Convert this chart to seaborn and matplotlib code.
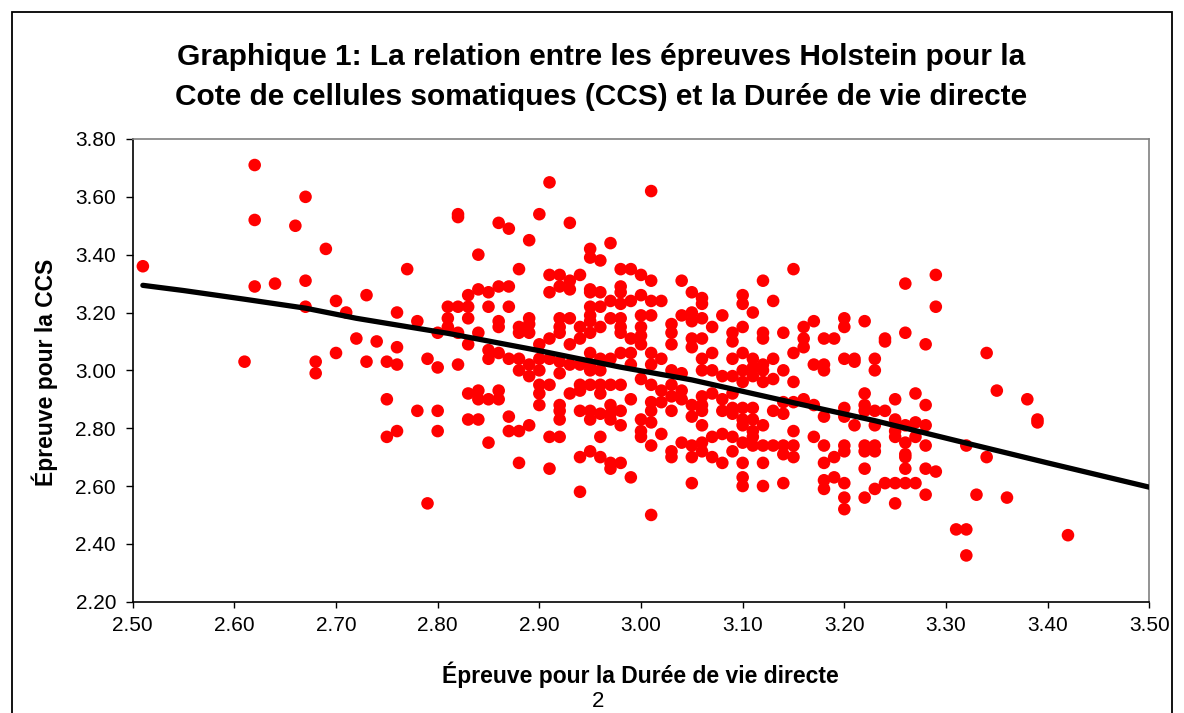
import numpy as np
import pandas as pd
import matplotlib.pyplot as plt
import seaborn as sns
from matplotlib.patches import Rectangle
from matplotlib.ticker import FormatStrFormatter

# Épreuve pour la Durée de vie directe (x) / Épreuve pour la CCS (y)
duree = [
    2.51, 2.62, 2.62, 2.62, 2.61, 2.64, 2.66, 2.67, 2.67, 2.67, 2.69, 2.68, 2.68, 2.70, 2.71, 2.70,
    2.72, 2.73, 2.73, 2.74, 2.75, 2.76, 2.76, 2.76, 2.75, 2.75, 2.76, 2.77, 2.78, 2.78, 2.79, 2.79,
    2.80, 2.80, 2.80, 2.80, 2.81, 2.81, 2.81,
    2.91, 2.82, 2.82, 2.86, 2.87, 2.90, 2.93, 2.89, 2.97, 2.84, 2.95, 2.95, 2.96, 2.88, 2.98, 2.91,
    2.92, 2.94, 2.93, 2.91, 2.92, 2.93, 2.84, 2.85, 2.86, 2.87, 2.83, 2.95, 2.95, 2.96, 2.98, 2.98,
    2.97, 2.98, 2.82, 2.83, 2.85, 2.87, 2.95, 2.96, 2.83, 2.86, 2.86, 2.89, 2.89, 2.92, 2.93, 2.95,
    2.95, 2.97, 2.98, 2.82, 2.84, 2.88, 2.88, 2.89, 2.92, 2.92, 2.94, 2.95, 2.96, 2.98, 2.98, 2.91,
    2.94, 2.83, 2.93, 2.90, 2.85, 2.85, 2.86, 2.95, 2.96, 2.97, 2.82, 2.87, 2.88, 2.88, 2.89, 2.90,
    2.91, 2.92, 2.93, 2.94, 2.95, 2.95, 2.96, 2.98, 2.89, 2.90, 2.92,
    2.90, 2.90, 2.91, 2.94, 2.94, 2.95, 2.96, 2.96, 2.97, 2.98, 2.93, 2.83, 2.84, 2.84, 2.85, 2.86,
    2.86, 2.90, 2.92, 2.92, 2.92, 2.94, 2.95, 2.95, 2.96, 2.97, 2.97, 2.97, 2.98, 2.98, 2.83, 2.84,
    2.87, 2.87, 2.88, 2.89, 2.91, 2.92, 2.96, 2.85, 2.94, 2.95, 2.96, 2.97, 2.97, 2.98, 2.88, 2.91,
    2.94,
    3.01, 2.99, 3.00, 3.01, 3.04, 3.05, 3.06, 3.06, 2.99, 3.00, 3.01, 3.02, 3.00, 3.01, 3.04, 3.05,
    3.05, 3.06, 3.08, 3.10, 3.10, 3.11, 3.12, 3.13, 3.15, 3.03, 3.03, 3.03, 3.00, 3.00, 3.00, 2.99,
    3.07, 3.05, 3.05, 3.06, 3.09, 3.09, 3.10, 3.12, 3.12, 3.14, 2.99, 3.01, 3.02, 3.07, 3.09, 3.10,
    3.11, 3.13, 3.15, 3.06, 3.06, 3.11, 3.12, 3.01, 2.99, 3.03, 3.04, 3.07, 3.10, 3.12, 3.14, 3.08,
    3.09,
    3.00, 3.01, 3.02, 3.02, 3.03, 3.03, 3.03, 3.04, 3.04, 3.05, 3.05, 3.06, 3.06, 3.06, 3.07, 3.08,
    3.08, 3.09, 3.09, 3.09, 3.10, 3.10, 3.10, 3.10, 3.11, 3.11, 3.11, 3.11, 3.12, 3.12, 3.13, 3.13,
    3.14, 3.14, 3.15, 3.15, 2.99, 3.00, 3.00, 3.00, 3.01, 3.01, 3.01, 3.01, 3.02, 3.03, 3.03, 3.04,
    3.05, 3.05, 3.06, 3.06, 3.06, 3.07, 3.07, 3.08, 3.08, 3.09, 3.09, 3.10, 3.10, 3.10, 3.10, 3.11,
    3.11, 3.12, 3.12, 3.12, 3.13, 3.14, 3.14, 3.14, 3.15, 3.15, 2.99, 3.05, 3.01,
    3.26, 3.29, 3.29, 3.17, 3.16, 3.16, 3.16, 3.20, 3.20, 3.22, 3.18, 3.19, 3.24, 3.24, 3.26, 3.28,
    3.17, 3.18, 3.18, 3.20, 3.21, 3.21, 3.23, 3.23,
    3.15, 3.16, 3.17, 3.18, 3.20, 3.20, 3.21, 3.22, 3.22, 3.22, 3.23, 3.23, 3.24, 3.25, 3.25, 3.25,
    3.25, 3.26, 3.26, 3.26, 3.26, 3.26, 3.27, 3.27, 3.27, 3.28, 3.28, 3.28, 3.17, 3.18, 3.18, 3.18,
    3.18, 3.19, 3.19, 3.20, 3.20, 3.20, 3.20, 3.20, 3.22, 3.22, 3.22, 3.22, 3.23, 3.23, 3.23, 3.24,
    3.25, 3.25, 3.26, 3.27, 3.28, 3.28, 3.29, 3.31, 3.32, 3.32,
    3.34, 3.35, 3.38, 3.39, 3.39, 3.34, 3.33, 3.36, 3.42, 3.32,
]
ccs = [
    3.36, 3.71, 3.52, 3.29, 3.03, 3.30, 3.50, 3.60, 3.31, 3.22, 3.42, 3.03, 2.99, 3.24, 3.20, 3.06,
    3.11, 3.26, 3.03, 3.10, 3.03, 3.20, 3.08, 3.02, 2.90, 2.77, 2.79, 3.35, 3.17, 2.86, 3.04, 2.54,
    3.13, 3.01, 2.86, 2.79, 3.22, 3.18, 3.15,
    3.65, 3.54, 3.53, 3.51, 3.49, 3.54, 3.51, 3.45, 3.44, 3.40, 3.42, 3.39, 3.38, 3.35, 3.35, 3.33,
    3.33, 3.33, 3.31, 3.27, 3.29, 3.28, 3.28, 3.27, 3.29, 3.29, 3.26, 3.28, 3.27, 3.27, 3.29, 3.27,
    3.24, 3.23, 3.22, 3.22, 3.22, 3.22, 3.22, 3.22, 3.18, 3.17, 3.15, 3.18, 3.16, 3.18, 3.18, 3.19,
    3.17, 3.18, 3.18, 3.13, 3.13, 3.15, 3.13, 3.13, 3.15, 3.13, 3.15, 3.13, 3.15, 3.15, 3.13, 3.11,
    3.11, 3.09, 3.09, 3.09, 3.07, 3.04, 3.06, 3.06, 3.04, 3.04, 3.02, 3.04, 3.04, 3.00, 3.02, 3.04,
    3.04, 3.03, 3.02, 3.02, 3.02, 3.00, 3.00, 3.06, 2.98, 3.00, 2.99,
    2.95, 2.92, 2.95, 2.95, 2.93, 2.95, 2.95, 2.92, 2.95, 2.95, 2.92, 2.92, 2.93, 2.90, 2.90, 2.93,
    2.90, 2.88, 2.88, 2.86, 2.83, 2.86, 2.86, 2.83, 2.85, 2.88, 2.85, 2.83, 2.86, 2.81, 2.83, 2.83,
    2.84, 2.79, 2.79, 2.81, 2.77, 2.77, 2.77, 2.75, 2.70, 2.72, 2.70, 2.68, 2.66, 2.68, 2.68, 2.66,
    2.58,
    3.62, 3.35, 3.33, 3.31, 3.31, 3.27, 3.25, 3.23, 3.24, 3.26, 3.24, 3.24, 3.19, 3.19, 3.19, 3.20,
    3.17, 3.18, 3.19, 3.26, 3.23, 3.20, 3.31, 3.24, 3.35, 3.16, 3.13, 3.09, 3.15, 3.12, 3.09, 3.11,
    3.15, 3.11, 3.08, 3.11, 3.13, 3.10, 3.15, 3.13, 3.11, 3.13, 3.06, 3.06, 3.04, 3.06, 3.04, 3.06,
    3.04, 3.04, 3.06, 3.04, 3.00, 3.01, 3.02, 3.02, 3.02, 3.00, 2.99, 3.00, 3.00, 3.00, 3.00, 2.98,
    2.98,
    2.97, 2.95, 2.93, 2.89, 2.95, 2.91, 2.86, 2.93, 2.90, 2.88, 2.84, 2.91, 2.88, 2.86, 2.92, 2.90,
    2.86, 2.92, 2.87, 2.85, 2.96, 2.87, 2.83, 2.81, 2.98, 2.87, 2.83, 2.79, 2.96, 2.81, 2.97, 2.86,
    2.89, 2.85, 2.96, 2.79, 2.90, 2.83, 2.79, 2.77, 2.89, 2.86, 2.82, 2.74, 2.78, 2.72, 2.70, 2.75,
    2.74, 2.70, 2.81, 2.75, 2.72, 2.77, 2.70, 2.78, 2.68, 2.77, 2.72, 2.75, 2.68, 2.63, 2.60, 2.77,
    2.74, 2.74, 2.68, 2.60, 2.74, 2.74, 2.71, 2.61, 2.74, 2.70, 2.63, 2.61, 2.50,
    3.30, 3.33, 3.22, 3.17, 3.15, 3.11, 3.08, 3.18, 3.15, 3.17, 3.11, 3.11, 3.11, 3.10, 3.13, 3.09,
    3.02, 3.02, 3.00, 3.04, 3.04, 3.03, 3.04, 3.00,
    2.89, 2.90, 2.88, 2.84, 2.87, 2.84, 2.81, 2.92, 2.88, 2.86, 2.86, 2.81, 2.86, 2.90, 2.83, 2.79,
    2.77, 2.81, 2.75, 2.71, 2.70, 2.66, 2.92, 2.82, 2.77, 2.88, 2.81, 2.74, 2.77, 2.74, 2.68, 2.62,
    2.59, 2.70, 2.63, 2.74, 2.72, 2.61, 2.56, 2.52, 2.74, 2.72, 2.66, 2.56, 2.74, 2.72, 2.59, 2.61,
    2.61, 2.54, 2.61, 2.61, 2.66, 2.57, 2.65, 2.45, 2.45, 2.74,
    3.06, 2.93, 2.90, 2.83, 2.82, 2.70, 2.57, 2.56, 2.43, 2.36,
]

# tendance (ligne noire)
trend_x = [2.51, 2.55, 2.61, 2.67, 2.72, 2.77, 2.81, 2.90, 2.98, 3.05, 3.15, 3.23, 3.31, 3.40, 3.50]
trend_y = [3.294, 3.276, 3.246, 3.215, 3.180, 3.151, 3.128, 3.068, 3.011, 2.967, 2.888, 2.826,
           2.757, 2.680, 2.596]

df = pd.DataFrame({"duree": duree, "ccs": ccs})

sns.set_style("white")
plt.rcParams["font.family"] = ["Liberation Sans", "DejaVu Sans"]
plt.rcParams["text.color"] = "black"

fig = plt.figure(figsize=(11.84, 7.13), dpi=100)
ax = fig.add_axes([132.7 / 1184, 1 - 601.7 / 713, 1016.6 / 1184, 462.7 / 713])

sns.scatterplot(data=df, x="duree", y="ccs", color="#ff0000", s=82, edgecolor="none",
                linewidth=0, ax=ax, clip_on=False, zorder=2)
sns.lineplot(x=trend_x, y=trend_y, color="black", linewidth=3.8, ax=ax, zorder=3)

ax.set_xlim(2.50, 3.50)
ax.set_ylim(2.20, 3.80)
ax.set_xticks(np.arange(2.5, 3.501, 0.1))
ax.set_yticks(np.arange(2.2, 3.801, 0.2))
ax.xaxis.set_major_formatter(FormatStrFormatter("%.2f"))
ax.yaxis.set_major_formatter(FormatStrFormatter("%.2f"))
ax.tick_params(axis="x", direction="out", length=4, width=1, labelsize=15, pad=6,
               colors="black", labelcolor="black")
ax.tick_params(axis="y", direction="out", length=5, width=1, labelsize=15, pad=7,
               colors="black", labelcolor="black")
ax.tick_params(bottom=True, left=True)
ax.set_xlabel("")
ax.set_ylabel("")

for side in ["left", "bottom"]:
    ax.spines[side].set_color("black")
    ax.spines[side].set_linewidth(1.2)
for side in ["top", "right"]:
    ax.spines[side].set_color("#808080")
    ax.spines[side].set_linewidth(1.2)

fig.text(601 / 1184, 1 - 57 / 713, "Graphique 1: La relation entre les épreuves Holstein pour la",
         ha="center", va="center", fontsize=21.5, fontweight="bold", color="black")
fig.text(601 / 1184, 1 - 97 / 713, "Cote de cellules somatiques (CCS) et la Durée de vie directe",
         ha="center", va="center", fontsize=21.5, fontweight="bold", color="black")
fig.text(640 / 1184, 1 - 675 / 713, "Épreuve pour la Durée de vie directe",
         ha="center", va="center", fontsize=16.5, fontweight="bold", color="black")
fig.text(45 / 1184, 1 - 372 / 713, "Épreuve pour la CCS", rotation=90,
         ha="center", va="center", fontsize=16.5, fontweight="bold", color="black")

# cadre de la page + numéro de page
fig.patches.append(Rectangle((12 / 1184, -0.2), 1160 / 1184, 1.2 - 12 / 713,
                             transform=fig.transFigure, fill=False, edgecolor="black",
                             linewidth=1.3))
fig.text(598 / 1184, 0.002, "2", ha="center", va="bottom", fontsize=16, color="black")

fig.savefig("out.png", dpi=100)
